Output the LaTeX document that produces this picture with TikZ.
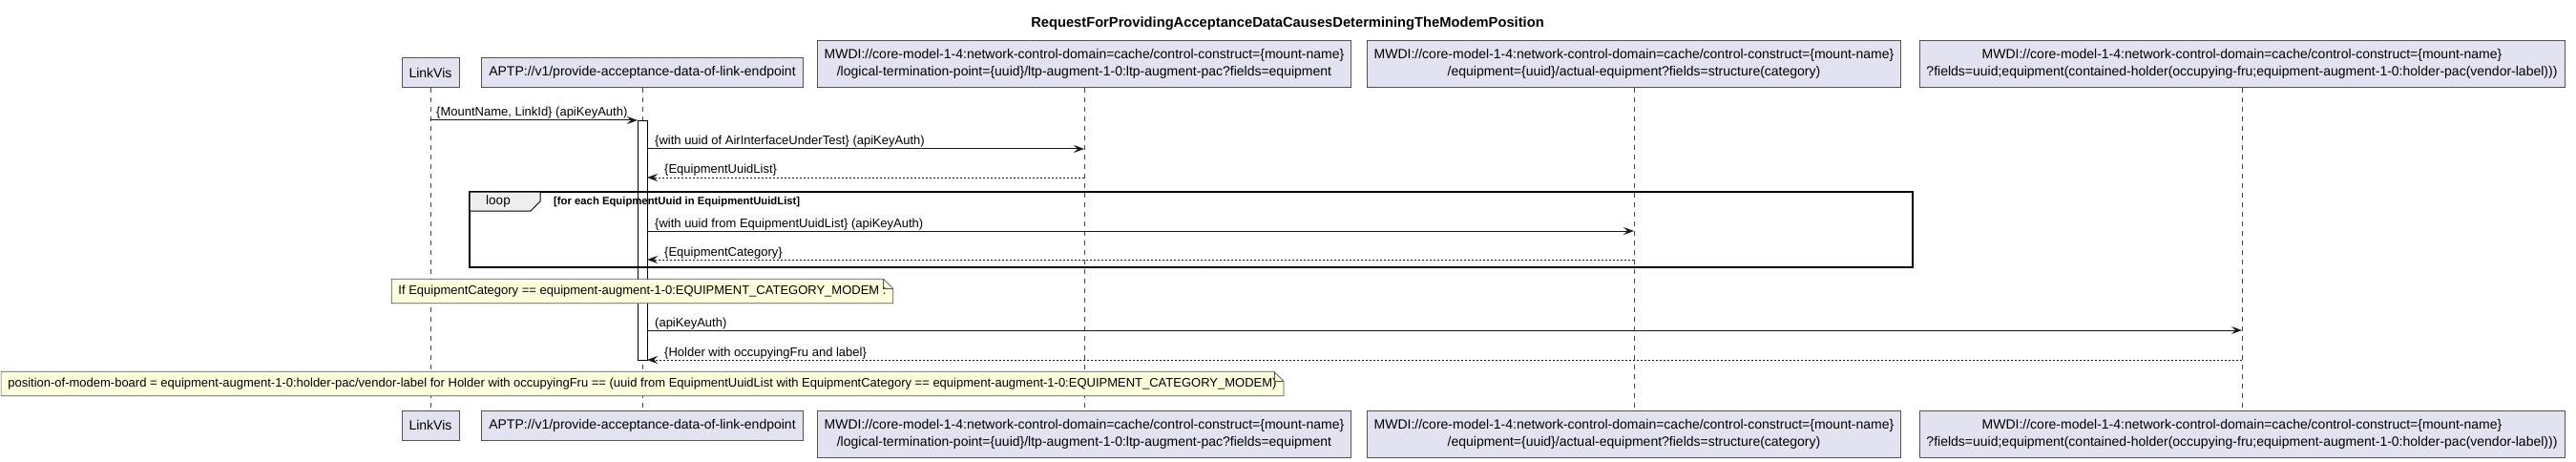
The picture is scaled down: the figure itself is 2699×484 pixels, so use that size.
\documentclass[tikz,border=0pt]{standalone}
\usepackage{fontspec}
\setmainfont{Liberation Sans}
\usetikzlibrary{arrows.meta}
\definecolor{partfill}{HTML}{E2E2F0}
\definecolor{partdraw}{HTML}{181818}
\definecolor{notefill}{HTML}{FEFFDD}
\definecolor{tabfill}{HTML}{EEEEEE}
\tikzset{
  part/.style={draw=partdraw!75, line width=0.8pt, fill=partfill, font=\fontsize{14}{17.5}\selectfont, align=center, inner xsep=7.5pt, inner ysep=0pt},
  partone/.style={part, minimum height=31pt},
  parttwo/.style={part, minimum height=49pt},
  lifeline/.style={draw=partdraw!80, line width=0.6pt, dash pattern=on 5pt off 5pt},
  msg/.style={draw=partdraw, line width=1pt, -{Stealth[length=11pt,width=8pt,inset=4pt]}},
  ret/.style={msg, dash pattern=on 2pt off 2pt},
  lbl/.style={anchor=base west, inner sep=0pt, font=\fontsize{13}{15}\selectfont},
  notetext/.style={fill=notefill, inner xsep=7pt, inner ysep=0pt, minimum height=25pt, font=\fontsize{13}{15}\selectfont},
  noteline/.style={draw=partdraw!75, line width=0.7pt},
  actbar/.style={draw=black, line width=1pt, fill=white, minimum width=10pt, inner sep=0pt},
  loopframe/.style={draw=black, line width=1.6pt},
}
\begin{document}
\begin{tikzpicture}[x=1pt,y=-1pt]
\useasboundingbox (0,0) rectangle (2699,484);
% title
\node[font=\bfseries\fontsize{14.7}{17}\selectfont] (title) at (1349,25) {RequestForProvidingAcceptanceDataCausesDeterminingTheModemPosition};
% participants top
\node[partone, anchor=south] (lvT) at (451,92) {LinkVis};
\node[partone, anchor=south] (apT) at (673,92) {APTP://v1/provide-acceptance-data-of-link-endpoint};
\node[parttwo, anchor=south] (maT) at (1136,92) {MWDI://core-model-1-4:network-control-domain=cache/control-construct=\{mount-name\}\\/logical-termination-point=\{uuid\}/ltp-augment-1-0:ltp-augment-pac?fields=equipment};
\node[parttwo, anchor=south] (mbT) at (1712,92) {MWDI://core-model-1-4:network-control-domain=cache/control-construct=\{mount-name\}\\/equipment=\{uuid\}/actual-equipment?fields=structure(category)};
\node[parttwo, anchor=south] (mcT) at (2349,92) {MWDI://core-model-1-4:network-control-domain=cache/control-construct=\{mount-name\}\\?fields=uuid;equipment(contained-holder(occupying-fru;equipment-augment-1-0:holder-pac(vendor-label)))};
% participants bottom
\node[partone, anchor=north] (lvB) at (451,430) {LinkVis};
\node[partone, anchor=north] (apB) at (673,430) {APTP://v1/provide-acceptance-data-of-link-endpoint};
\node[parttwo, anchor=north] (maB) at (1136,430) {MWDI://core-model-1-4:network-control-domain=cache/control-construct=\{mount-name\}\\/logical-termination-point=\{uuid\}/ltp-augment-1-0:ltp-augment-pac?fields=equipment};
\node[parttwo, anchor=north] (mbB) at (1712,430) {MWDI://core-model-1-4:network-control-domain=cache/control-construct=\{mount-name\}\\/equipment=\{uuid\}/actual-equipment?fields=structure(category)};
\node[parttwo, anchor=north] (mcB) at (2349,430) {MWDI://core-model-1-4:network-control-domain=cache/control-construct=\{mount-name\}\\?fields=uuid;equipment(contained-holder(occupying-fru;equipment-augment-1-0:holder-pac(vendor-label)))};
% lifelines
\draw[lifeline] (lvT.south) -- (lvB.north);
\draw[lifeline] (apT.south) -- (apB.north);
\draw[lifeline] (maT.south) -- (maB.north);
\draw[lifeline] (mbT.south) -- (mbB.north);
\draw[lifeline] (mcT.south) -- (mcB.north);
% activation bar
\node[actbar, anchor=north, minimum height=251pt] (act) at (673,126) {};
% loop frame
\draw[loopframe] (492,201) rectangle (2004,280);
\draw[draw=black, line width=1pt, fill=tabfill] (492,201) -- (566,201) -- (566,211) -- (556,221) -- (492,221) -- cycle;
\node[font=\fontsize{13.5}{15}\selectfont, inner sep=0pt] (looplbl) at (522,211) {loop};
\node[anchor=west, inner sep=0pt, font=\bfseries\fontsize{11.3}{13}\selectfont] (loopcond) at (580,212) {[for each EquipmentUuid in EquipmentUuidList]};
% message endpoints
\coordinate (m1a) at (451,126); \coordinate (m1b) at (668,126);
\coordinate (m2a) at (678,156); \coordinate (m2b) at (1136,156);
\coordinate (m3a) at (1136,186); \coordinate (m3b) at (678,186);
\coordinate (m4a) at (678,242); \coordinate (m4b) at (1712,242);
\coordinate (m5a) at (1712,272); \coordinate (m5b) at (678,272);
\coordinate (m6a) at (678,346); \coordinate (m6b) at (2349,346);
\coordinate (m7a) at (2349,377); \coordinate (m7b) at (678,377);
% messages
\draw[msg] (m1a) -- (m1b);
\node[lbl] (l1) at (457,122) {\{MountName, LinkId\} (apiKeyAuth)};
\draw[msg] (m2a) -- (m2b);
\node[lbl] (l2) at (686,152) {\{with uuid of AirInterfaceUnderTest\} (apiKeyAuth)};
\draw[ret] (m3a) -- (m3b);
\node[lbl] (l3) at (696,182) {\{EquipmentUuidList\}};
\draw[msg] (m4a) -- (m4b);
\node[lbl] (l4) at (686,238) {\{with uuid from EquipmentUuidList\} (apiKeyAuth)};
\draw[ret] (m5a) -- (m5b);
\node[lbl] (l5) at (696,268) {\{EquipmentCategory\}};
\draw[msg] (m6a) -- (m6b);
\node[lbl] (l6) at (686,342) {(apiKeyAuth)};
\draw[ret] (m7a) -- (m7b);
\node[lbl] (l7) at (696,373) {\{Holder with occupyingFru and label\}};
% note 1
\node[notetext] (n1) at (673,305) {If EquipmentCategory == equipment-augment-1-0:EQUIPMENT\_CATEGORY\_MODEM :};
\fill[white] ([xshift=-10pt]n1.north east) -- ([xshift=0.5pt,yshift=0.5pt]n1.north east) -- ([yshift=-10pt]n1.north east) -- cycle;
\draw[noteline] (n1.north west) -- ([xshift=-10pt]n1.north east) -- ([yshift=-10pt]n1.north east) -- (n1.south east) -- (n1.south west) -- cycle;
\draw[noteline] ([xshift=-10pt]n1.north east) -- ([xshift=-10pt,yshift=-10pt]n1.north east) -- ([yshift=-10pt]n1.north east);
% note 2
\node[notetext] (n2) at (673,402) {position-of-modem-board = equipment-augment-1-0:holder-pac/vendor-label for Holder with occupyingFru == (uuid from EquipmentUuidList with EquipmentCategory == equipment-augment-1-0:EQUIPMENT\_CATEGORY\_MODEM)};
\fill[white] ([xshift=-10pt]n2.north east) -- ([xshift=0.5pt,yshift=0.5pt]n2.north east) -- ([yshift=-10pt]n2.north east) -- cycle;
\draw[noteline] (n2.north west) -- ([xshift=-10pt]n2.north east) -- ([yshift=-10pt]n2.north east) -- (n2.south east) -- (n2.south west) -- cycle;
\draw[noteline] ([xshift=-10pt]n2.north east) -- ([xshift=-10pt,yshift=-10pt]n2.north east) -- ([yshift=-10pt]n2.north east);
\end{tikzpicture}
\end{document}
